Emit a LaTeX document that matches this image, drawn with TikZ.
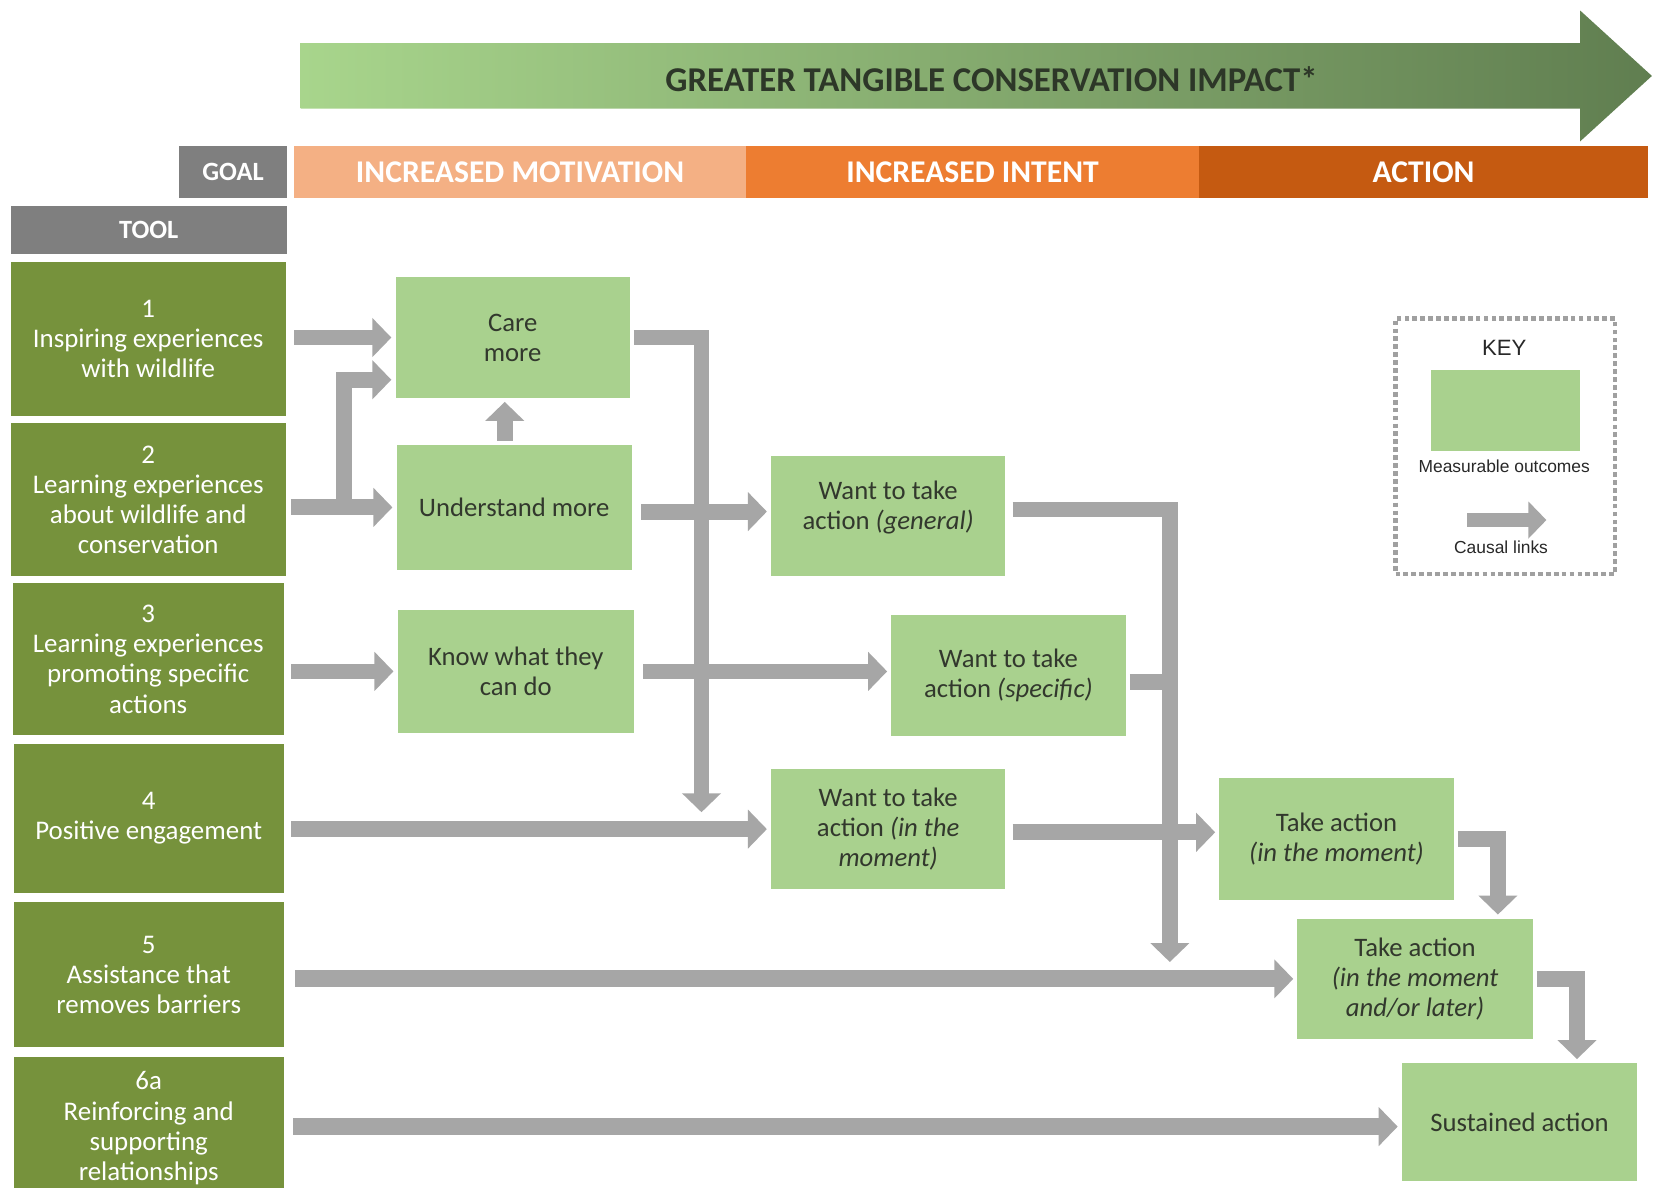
\documentclass[tikz,border=0pt]{standalone}
\usepackage{fontspec}
\setmainfont{Carlito}
\newfontfamily\keyfont{Liberation Sans}
\usetikzlibrary{arrows.meta}
\definecolor{toolgreen}{RGB}{118,146,60}
\definecolor{outgreen}{RGB}{169,209,142}
\definecolor{arrgrey}{RGB}{166,166,166}
\definecolor{hdrgrey}{RGB}{127,127,127}
\definecolor{motor}{RGB}{244,176,132}
\definecolor{intor}{RGB}{237,125,49}
\definecolor{actor}{RGB}{197,90,17}
\definecolor{txtdark}{RGB}{50,56,45}
\definecolor{titledark}{RGB}{45,55,40}
\definecolor{arrlight}{RGB}{168,213,140}
\definecolor{arrmid}{RGB}{140,184,115}
\definecolor{arrdark}{RGB}{96,126,80}
\definecolor{keygrey}{RGB}{160,160,160}
\definecolor{keytext}{RGB}{40,40,40}
\begin{document}
\begin{tikzpicture}[x=1pt,y=-1pt,
 toolbox/.style={fill=toolgreen,text=white,align=center,inner sep=0pt,outer sep=5pt,font=\fontsize{25.5}{28.5}\selectfont},
 outbox/.style={fill=outgreen,text=txtdark,align=center,inner sep=0pt,outer sep=4pt,font=\fontsize{25.3}{28.5}\selectfont},
 outtext/.style={text=txtdark,align=center,inner sep=0pt,font=\fontsize{25.3}{28.5}\selectfont},
 hdr/.style={text=white,inner sep=0pt,minimum height=50pt,font=\bfseries\fontsize{30}{32}\selectfont},
 flow/.style={draw=arrgrey,line width=15pt,-{Triangle[width=36pt,length=18pt]}},
 flowline/.style={draw=arrgrey,line width=15pt},
 keylabel/.style={text=keytext,inner sep=0pt,font=\keyfont\fontsize{16.5}{19}\selectfont},
]
\useasboundingbox (0,0) rectangle (1568,1126);
\fill[white] (0,0) rectangle (1568,1126);

% big gradient arrow
\shade[left color=arrlight, middle color=arrmid, right color=arrdark]
  (285,41) -- (1498,41) -- (1498,10) -- (1566,72) -- (1498,134) -- (1498,103) -- (285,103) -- cycle;
\node[text=titledark,inner sep=0pt,font=\bfseries\fontsize{33}{35}\selectfont] (title) at (940,75) {GREATER TANGIBLE CONSERVATION IMPACT*};

% header row
\node[hdr,fill=hdrgrey,minimum width=102pt,font=\bfseries\fontsize{25}{28}\selectfont] (goal) at (221,163) {GOAL};
\node[hdr,fill=motor,minimum width=428pt] (mot) at (493,163) {INCREASED MOTIVATION};
\node[hdr,fill=intor,minimum width=430pt] (int) at (922,163) {INCREASED INTENT};
\node[hdr,fill=actor,minimum width=425pt] (act) at (1349.5,163) {ACTION};
\node[hdr,fill=hdrgrey,minimum width=262pt,minimum height=46pt,font=\bfseries\fontsize{25}{28}\selectfont] (tool) at (141,218) {TOOL};

% tools
\node[toolbox,minimum width=261pt,minimum height=146pt] (t1) at (140.5,321) {1\\Inspiring experiences\\with wildlife};
\node[toolbox,minimum width=261pt,minimum height=145pt] (t2) at (140.5,473.5) {2\\Learning experiences\\about wildlife and\\conservation};
\node[toolbox,minimum width=257pt,minimum height=144pt] (t3) at (140.5,625) {3\\Learning experiences\\promoting specific\\actions};
\node[toolbox,minimum width=256pt,minimum height=142pt] (t4) at (141,776) {4\\Positive engagement};
\node[toolbox,minimum width=256pt,minimum height=138pt] (t5) at (141,924) {5\\Assistance that\\removes barriers};
\node[toolbox,minimum width=256pt,minimum height=135pt] (t6) at (141,1069.5) {6a\\Reinforcing and\\supporting\\relationships};

% outcomes
\node[outbox,minimum width=222pt,minimum height=114pt] (care) at (486,320) {Care\\more};
\node[outbox,minimum width=223pt,minimum height=118pt] (und) at (487.5,481) {Understand more};
\node[outbox,minimum width=224pt,minimum height=117pt] (know) at (489,636.5) {Know what they\\can do};
\node[outbox,minimum width=222pt,minimum height=114pt] (wg) at (842,489) {};
\node[outtext] (wgt) at (842,481) {Want to take\\action \textit{(general)}};
\node[outbox,minimum width=222pt,minimum height=115pt] (ws) at (956,640.5) {Want to take\\action \textit{(specific)}};
\node[outbox,minimum width=222pt,minimum height=114pt] (wm) at (842,786) {Want to take\\action \textit{(in the}\\\textit{moment)}};
\node[outbox,minimum width=222pt,minimum height=115pt] (tm) at (1267,795.5) {Take action\\\textit{(in the moment)}};
\node[outbox,minimum width=223pt,minimum height=114pt] (tl) at (1341.5,928) {Take action\\\textit{(in the moment}\\\textit{and/or later)}};
\node[outbox,minimum width=223pt,minimum height=112pt] (sus) at (1440.5,1064) {Sustained action};

% key
\node[draw=keygrey,line width=4pt,dash pattern=on 4.5pt off 3pt,minimum width=208pt,minimum height=242pt,inner sep=0pt] (keybox) at (1427,423) {};
\node[keylabel,font=\keyfont\fontsize{21}{24}\selectfont] (keyt) at (1426,330) {KEY};
\node[fill=outgreen,minimum width=141pt,minimum height=77pt,inner sep=0pt] (keysw) at (1427,389.5) {};
\node[keylabel] (keym) at (1426,442) {Measurable outcomes};
\coordinate (ka) at (1391,493);
\coordinate (kb) at (1466,493);
\draw[flow,line width=14pt,-{Triangle[width=34pt,length=17pt]}] (ka) -- (kb);
\node[keylabel] (keyc) at (1423,519) {Causal links};

% connectors
\draw[flow] ([xshift=3pt]t1.east |- care.west) -- (care.west);
\draw[flow] (t2.east |- und.west) -- (und.west);
\coordinate (br) at (326,481);
\draw[flow] (br) |- ([yshift=-40pt]care.west);
\coordinate (a3) at ([xshift=-9pt]und.north);
\draw[flow] (a3) -- (a3 |- care.south);
\draw[flow] ([xshift=2pt]t3.east |- know.west) -- (know.west);
\coordinate (d1) at (665,770);
\draw[flow] (care.east) -| (d1);
\coordinate (a6) at ([yshift=-4pt]und.east);
\draw[flow] ([xshift=5pt]a6) -- (a6 -| wg.west);
\draw[flow] ([xshift=5pt]know.east) -- (know.east -| ws.west);
\draw[flow] ([xshift=2pt]t4.east |- wm.west) -- (wm.west);
\coordinate (d2) at (1109,912);
\draw[flow] ([yshift=6pt,xshift=3pt]wg.east) -| (d2);
\coordinate (a10) at ([yshift=-6pt]ws.east);
\draw[flowline] (a10) -- (a10 -| d2);
\coordinate (a11) at ([yshift=-3pt,xshift=3pt]wm.east);
\draw[flow] (a11) -- (a11 -| tm.west);
\draw[flow] (tm.east) -| ([xshift=78.5pt]tl.north);
\draw[flow,line width=16pt] ([xshift=6pt]t5.east |- tl.west) -- (tl.west);
\draw[flow] (tl.east) -| ([xshift=54.5pt]sus.north);
\coordinate (a15) at ([yshift=-4pt]sus.west);
\draw[flow,line width=16pt] ([xshift=4pt]t6.east |- a15) -- (a15);
\end{tikzpicture}
\end{document}
